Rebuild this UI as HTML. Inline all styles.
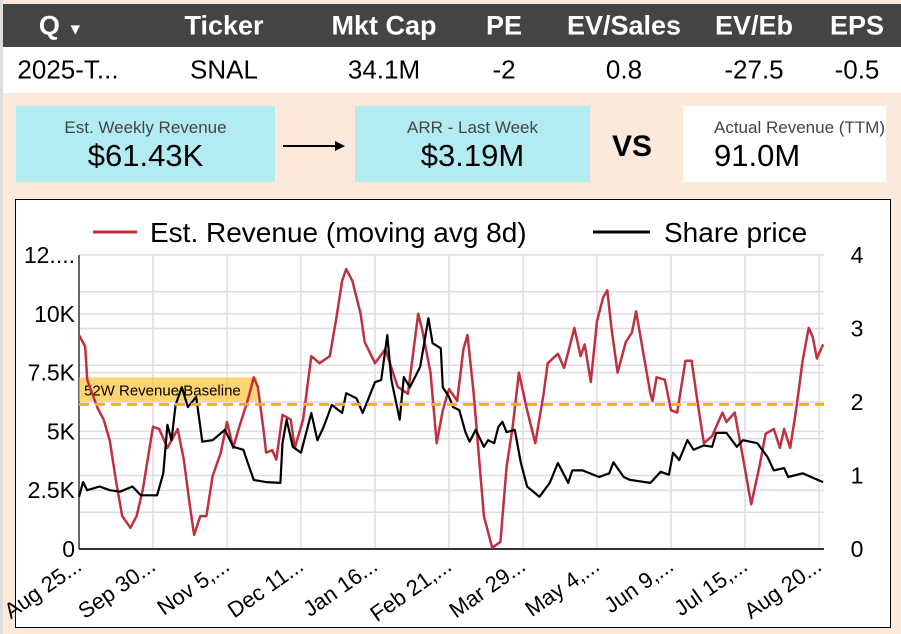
<!DOCTYPE html>
<html><head><meta charset="utf-8">
<style>
body{margin:0;width:901px;height:634px;background:#fbeadc;font-family:"Liberation Sans",sans-serif;position:relative;overflow:hidden}
.hdr{position:absolute;left:3px;top:4px;width:898px;height:43px;background:#444;color:#fff;font-family:"Liberation Sans Narrow","Liberation Sans",sans-serif;font-weight:bold;font-size:27px}
.row{position:absolute;left:3px;top:47px;width:898px;height:46px;background:#fff;color:#000;font-family:"Liberation Sans Narrow","Liberation Sans",sans-serif;font-size:26px}
.c{position:absolute;top:50%;transform:translate(-50%,-50%);white-space:nowrap}
.card{position:absolute;top:106px;height:76px;text-align:center;font-family:"Liberation Sans Narrow","Liberation Sans",sans-serif}
.card .t{font-size:17px;color:#444;margin-top:12px}
.card .v{font-size:31px;color:#000;margin-top:0px}
</style></head><body>
<div style="position:absolute;left:0;top:0;width:3px;height:634px;background:#ddd"></div>
<div class="hdr">
 <span class="c" style="left:58px">Q <span style="font-size:16px">▼</span></span>
 <span class="c" style="left:221px">Ticker</span>
 <span class="c" style="left:381px">Mkt Cap</span>
 <span class="c" style="left:501px">PE</span>
 <span class="c" style="left:621px">EV/Sales</span>
 <span class="c" style="left:751px">EV/Eb</span>
 <span class="c" style="left:854px">EPS</span>
</div>
<div class="row">
 <span class="c" style="left:65px">2025-T...</span>
 <span class="c" style="left:221px">SNAL</span>
 <span class="c" style="left:381px">34.1M</span>
 <span class="c" style="left:501px">-2</span>
 <span class="c" style="left:621px">0.8</span>
 <span class="c" style="left:751px">-27.5</span>
 <span class="c" style="left:854px">-0.5</span>
</div>
<div class="card" style="left:16px;width:259px;background:#b3ebf2"><div class="t">Est. Weekly Revenue</div><div class="v">$61.43K</div></div>
<svg style="position:absolute;left:283px;top:138px" width="64" height="16"><line x1="0" y1="8" x2="55" y2="8" stroke="#000" stroke-width="2"/><polygon points="52,3 62,8 52,13" fill="#000"/></svg>
<div class="card" style="left:355px;width:235px;background:#b3ebf2"><div class="t">ARR - Last Week</div><div class="v">$3.19M</div></div>
<div style="position:absolute;left:612px;top:130px;font-family:'Liberation Sans Narrow','Liberation Sans',sans-serif;font-weight:bold;font-size:30px">VS</div>
<div class="card" style="left:683px;width:203px;background:#fff;text-align:left"><div class="t" style="padding-left:31px">Actual Revenue (TTM)</div><div class="v" style="padding-left:31px">91.0M</div></div>
<svg style="position:absolute;left:0;top:0" width="901" height="634" id="chart">
<rect x="15.5" y="199.5" width="875" height="428" fill="#fff" stroke="#000"/>
</svg>
<script>
const revDays=[0,3,4,9,12,15,18,21,25,28,31,36,39,43,48,51,54,56,59,62,65,69,72,75,78,82,85,87,90,91,94,96,99,103,105,109,113,117,122,125,128,130,133,137,139,144,149,155,160,165,167,171,174,177,180,184,187,189,192,197,201,205,208,211,214,218,222,226,228,233,236,241,244,246,249,252,255,257,259,262,266,269,271,274,278,279,281,285,288,291,295,298,301,304,308,313,315,319,323,327,331,334,338,341,343,346,349,352,355,357,359,362];
const revValues=[9.1,8.6,7.2,6.0,5.5,4.6,2.9,1.4,0.9,1.4,2.5,5.2,5.1,4.3,5.1,3.8,1.8,0.6,1.4,1.4,3.1,4.1,5.4,4.3,5.2,6.3,7.3,6.9,4.9,4.1,4.2,3.8,5.7,5.5,4.3,5.5,8.2,7.9,8.2,9.7,11.4,11.9,11.4,10.0,8.8,7.9,8.5,6.9,6.6,10.0,9.3,7.5,4.5,5.9,6.8,6.3,8.5,9.1,6.6,1.4,0.05,0.3,3.5,5.2,7.5,5.9,4.5,6.6,7.9,8.3,7.7,9.4,8.2,8.7,7.1,9.7,10.7,11.0,9.4,7.5,8.8,9.2,10.1,8.6,6.6,6.3,7.3,7.2,5.9,5.8,8.0,8.0,6.2,4.5,4.8,5.8,5.4,5.8,3.9,1.9,3.5,4.9,5.1,4.3,5.1,4.3,6.0,8.0,9.4,9.0,8.1,8.7];
const priceDays=[0,2,4,10,15,20,26,30,38,41,43,45,47,50,53,57,60,65,71,75,80,82,85,91,98,99,101,104,108,113,116,119,123,128,130,135,138,144,147,150,152,156,158,161,166,170,172,176,177,180,182,185,188,190,193,197,199,202,204,206,208,212,215,218,224,229,233,238,240,245,253,258,260,265,268,278,283,287,289,292,296,299,304,308,310,315,320,323,330,335,338,343,345,352,357,362];
const priceValues=[0.71,0.91,0.80,0.85,0.80,0.78,0.85,0.73,0.73,1.03,1.69,1.48,1.96,2.20,1.93,2.07,1.46,1.48,1.62,1.39,1.35,1.18,0.94,0.91,0.90,1.44,1.76,1.39,1.31,1.85,1.48,1.66,1.96,1.85,2.12,2.05,1.85,2.27,2.30,2.91,2.30,1.76,2.34,2.20,2.48,3.14,2.80,2.73,2.20,2.07,1.93,1.89,1.59,1.46,1.62,1.39,1.48,1.44,1.66,1.73,1.59,1.62,1.17,0.85,0.71,0.90,1.17,0.90,1.07,1.07,0.98,1.03,1.18,0.98,0.94,0.90,1.05,1.01,1.31,1.21,1.48,1.35,1.41,1.39,1.58,1.58,1.39,1.48,1.44,1.25,1.07,1.10,0.98,1.03,0.97,0.91];
const baselineValue=6.15;
const leftTicks=[0,2.5,5,7.5,10,12.5];
const leftTickLabels=["0","2.5K","5K","7.5K","10K","12...."];
const rightTicks=[0,1,2,3,4];
const xTickDays=[0,36,72,108,144,180,216,252,288,324,360];
const xTickLabels=["Aug 25...","Sep 30...","Nov 5,...","Dec 11...","Jan 16...","Feb 21,...","Mar 29...","May 4,...","Jun 9,...","Jul 15,...","Aug 20..."];

const svg=document.getElementById('chart');
const NS='http://www.w3.org/2000/svg';
const X0=79,X1=824,Y0=549,Y1=255;
const xs=d=>X0+d*74/36;
const yL=v=>Y0-(v/12.5)*(Y0-Y1);
const yR=v=>Y0-(v/4)*(Y0-Y1);
function mk(tag,attrs){const e=document.createElementNS(NS,tag);for(const k in attrs)e.setAttribute(k,attrs[k]);svg.appendChild(e);return e;}

for(let i=0;i<leftTicks.length;i++){const g=mk('line',{x1:X0,x2:X1,y1:yL(leftTicks[i]),y2:yL(leftTicks[i]),stroke:'#ddd','stroke-width':1.5});

}
for(let v=0.5;v<4;v+=0.5){const g=mk('line',{x1:X0,x2:X1,y1:yR(v),y2:yR(v),stroke:'#ddd','stroke-width':1.5});

}
for(let i=1;i<xTickDays.length;i++){const g=mk('line',{x1:xs(xTickDays[i]),x2:xs(xTickDays[i]),y1:Y1,y2:Y0,stroke:'#ddd','stroke-width':1.5});

}
const ax=mk('line',{x1:X0,x2:X0,y1:Y1,y2:Y0,stroke:'#333','stroke-width':1.5});


const bx=mk('line',{x1:X0,x2:X1,y1:Y0,y2:Y0,stroke:'#333','stroke-width':2});


leftTicks.forEach((v,i)=>{const t=mk('text',{x:75,y:yL(v)+8,'text-anchor':'end','font-size':23,fill:'#000'});t.textContent=leftTickLabels[i];

});
rightTicks.forEach(v=>{const t=mk('text',{x:857,y:yR(v)+8,'text-anchor':'middle','font-size':23,fill:'#000'});t.textContent=String(v);

});
xTickDays.forEach((d,i)=>{const x=xs(d)+4,y=Y0+20;const t=mk('text',{x:x,y:y,'text-anchor':'end','font-size':22,fill:'#000',transform:`rotate(-35 ${x} ${y})`});t.textContent=xTickLabels[i];

});
const band=mk('rect',{x:X0,y:yL(baselineValue)-27,width:178,height:24,fill:'rgba(255,190,40,0.65)'});


const bt=mk('text',{x:X0+5,y:yL(baselineValue)-9,'font-size':15,fill:'#000'});bt.textContent='52W Revenue Baseline';


function path(days,vals,yf){return days.map((d,i)=>(i?'L':'M')+xs(d).toFixed(1)+','+yf(vals[i]).toFixed(1)).join(' ');}
const rp=mk('path',{d:path(revDays,revValues,yL),fill:'none',stroke:'#c0313f','stroke-width':2.5,'stroke-linejoin':'round'});


const pp=mk('path',{d:path(priceDays,priceValues,yR),fill:'none',stroke:'#000','stroke-width':2.2,'stroke-linejoin':'round'});


const bl=mk('line',{x1:X0,x2:X1,y1:yL(baselineValue),y2:yL(baselineValue),stroke:'#f5b400','stroke-width':3,'stroke-dasharray':'10,6'});


const l1=mk('line',{x1:93,x2:137,y1:232,y2:232,stroke:'#c0313f','stroke-width':3});


const t1=mk('text',{x:150,y:242,'font-size':28,fill:'#000'});t1.textContent='Est. Revenue (moving avg 8d)';


const l2=mk('line',{x1:593,x2:650,y1:232,y2:232,stroke:'#000','stroke-width':3});


const t2=mk('text',{x:664,y:242,'font-size':28,fill:'#000'});t2.textContent='Share price';


</script>
</body></html>
